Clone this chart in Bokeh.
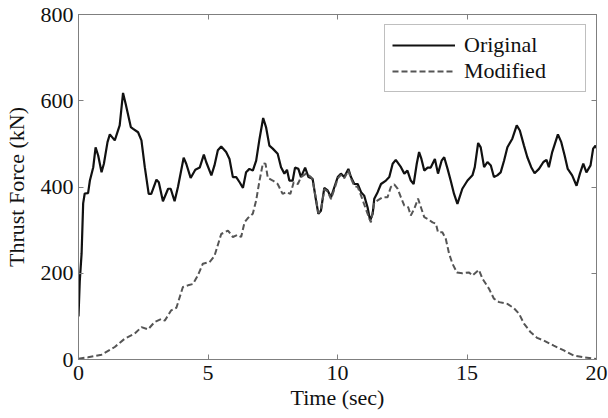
from bokeh.plotting import figure
from bokeh.models import Range1d, FixedTicker, LinearAxis, Legend, LegendItem
from bokeh.embed import file_html
from bokeh.resources import INLINE

# ---------------- data ----------------
orig_t = [0.00, 0.05, 0.12, 0.18, 0.24, 0.37, 0.44, 0.57, 0.66, 0.76,
          0.89, 0.98, 1.12, 1.21, 1.40, 1.59, 1.72, 1.82, 2.02, 2.11,
          2.30, 2.43, 2.56, 2.71, 2.81, 3.01, 3.10, 3.26, 3.46, 3.56,
          3.71, 3.84, 4.06, 4.16, 4.33, 4.51, 4.68, 4.84, 4.93, 5.13,
          5.25, 5.38, 5.51, 5.70, 5.83, 5.96, 6.09, 6.22, 6.35, 6.47,
          6.60, 6.73, 6.86, 6.99, 7.13, 7.24, 7.37, 7.50, 7.69, 7.82,
          7.95, 8.05, 8.14, 8.27, 8.36, 8.49, 8.59, 8.75, 8.88, 9.04,
          9.17, 9.26, 9.36, 9.49, 9.62, 9.75, 9.88, 10.01, 10.13, 10.26,
          10.42, 10.52, 10.65, 10.78, 10.91, 11.03, 11.16, 11.26, 11.36, 11.42,
          11.55, 11.68, 11.87, 12.00, 12.13, 12.25, 12.45, 12.58, 12.70, 12.83,
          12.94, 13.06, 13.15, 13.24, 13.35, 13.48, 13.60, 13.76, 13.88, 14.02,
          14.12, 14.25, 14.37, 14.50, 14.63, 14.82, 15.02, 15.21, 15.30, 15.43,
          15.53, 15.66, 15.79, 15.92, 16.04, 16.17, 16.30, 16.43, 16.56, 16.75,
          16.92, 17.04, 17.20, 17.33, 17.48, 17.61, 17.78, 17.95, 18.07, 18.16,
          18.29, 18.51, 18.64, 18.77, 18.89, 19.06, 19.23, 19.36, 19.49, 19.61,
          19.77, 19.87, 19.96, 20.00]
orig_f = [100, 183, 246, 362, 385, 386, 415, 446, 492, 473,
          434, 454, 504, 522, 508, 543, 618, 593, 539, 535,
          527, 508, 446, 384, 384, 417, 411, 367, 396, 396,
          367, 400, 468, 454, 421, 440, 445, 475, 458, 427,
          450, 485, 494, 481, 465, 423, 423, 411, 398, 434,
          442, 438, 461, 512, 560, 539, 496, 489, 477, 446,
          431, 440, 415, 415, 445, 442, 423, 445, 423, 419,
          369, 338, 345, 398, 392, 376, 400, 423, 431, 423,
          442, 423, 407, 407, 388, 380, 353, 322, 338, 373,
          388, 407, 415, 423, 454, 463, 446, 431, 438, 415,
          407, 454, 481, 465, 438, 445, 445, 465, 431, 461,
          469, 442, 415, 384, 361, 396, 415, 427, 446, 502,
          492, 446, 458, 450, 423, 427, 434, 461, 492, 512,
          543, 531, 496, 469, 446, 432, 442, 458, 463, 446,
          481, 522, 504, 473, 442, 427, 403, 431, 454, 434,
          450, 489, 496, 490]

mod_t = [0.00, 0.37, 0.89, 1.40, 1.78, 2.17, 2.43, 2.69, 2.94, 3.20,
         3.33, 3.58, 3.78, 4.03, 4.23, 4.42, 4.61, 4.80, 5.06, 5.25,
         5.51, 5.77, 5.96, 6.15, 6.28, 6.41, 6.54, 6.73, 6.86, 6.99,
         7.12, 7.22, 7.31, 7.50, 7.69, 7.88, 8.02, 8.18, 8.31, 8.47,
         8.59, 8.79, 8.98, 9.04, 9.17, 9.26, 9.36, 9.49, 9.62, 9.75,
         9.88, 10.01, 10.13, 10.26, 10.42, 10.52, 10.65, 10.78, 10.91, 11.16,
         11.29, 11.42, 11.55, 11.74, 11.93, 12.06, 12.19, 12.32, 12.45, 12.58,
         12.73, 12.83, 12.96, 13.11, 13.22, 13.35, 13.48, 13.67, 13.80, 13.88,
         14.05, 14.18, 14.31, 14.44, 14.61, 14.82, 15.08, 15.21, 15.46, 15.60,
         15.85, 16.04, 16.24, 16.56, 16.81, 17.01, 17.20, 17.46, 17.71, 17.97,
         18.35, 18.74, 19.13, 19.51, 19.90, 20.00]
mod_f = [2, 5, 11, 29, 48, 60, 75, 70, 87, 94,
         90, 114, 120, 168, 172, 175, 195, 222, 226, 240,
         291, 299, 284, 289, 284, 318, 328, 338, 369, 415,
         455, 454, 421, 415, 407, 384, 388, 384, 411, 407,
         423, 431, 423, 415, 372, 340, 345, 395, 390, 372,
         395, 420, 428, 420, 438, 420, 402, 400, 380, 338,
         318, 364, 369, 376, 376, 400, 406, 396, 376, 357,
         353, 334, 349, 373, 353, 330, 326, 318, 315, 295,
         295, 280, 245, 222, 202, 200, 202, 195, 208, 187,
         164, 141, 133, 129, 119, 106, 83, 63, 50, 44,
         32, 21, 9, 5, 2, 1]

x_ticks = [0, 5, 10, 15, 20]
y_ticks = [0, 200, 400, 600, 800]
series_names = ["Original", "Modified"]
x_label = "Time (sec)"
y_label = "Thrust Force (kN)"

# ---------------- figure ----------------
FONT = "Liberation Serif"
AX_COLOR = "#7f7f7f"

p = figure(width=608, height=418, output_backend="svg",
           toolbar_location=None,
           x_range=Range1d(0, 20), y_range=Range1d(0, 800),
           min_border_left=77, min_border_right=12, min_border_top=14,
           min_border_bottom=59)
p.background_fill_color = "white"
p.border_fill_color = "white"
p.outline_line_color = AX_COLOR
p.outline_line_width = 1
p.xgrid.visible = False
p.ygrid.visible = False


def style_axis(ax, ticks, size):
    ax.ticker = FixedTicker(ticks=ticks)
    ax.axis_line_color = AX_COLOR
    ax.major_tick_line_color = AX_COLOR
    ax.major_tick_in = 5
    ax.major_tick_out = 0
    ax.minor_tick_line_color = None
    ax.major_label_text_font = FONT
    ax.major_label_text_font_size = size
    ax.major_label_text_color = "#111111"
    ax.axis_label_text_font = FONT
    ax.axis_label_text_font_size = size
    ax.axis_label_text_font_style = "normal"
    ax.axis_label_text_color = "#111111"


style_axis(p.xaxis[0], x_ticks, "22px")
style_axis(p.yaxis[0], y_ticks, "22px")
p.xaxis[0].axis_label = x_label
p.yaxis[0].axis_label = y_label
p.xaxis[0].major_label_standoff = 6
p.xaxis[0].axis_label_standoff = 2
p.yaxis[0].major_label_standoff = 5
p.yaxis[0].axis_label_standoff = 9

# mirrored tick marks on top and right (no labels)
top_ax = LinearAxis()
right_ax = LinearAxis()
style_axis(top_ax, x_ticks, "1px")
style_axis(right_ax, y_ticks, "1px")
for ax in (top_ax, right_ax):
    ax.major_label_text_color = None
    ax.major_label_standoff = 0
p.add_layout(top_ax, "above")
p.add_layout(right_ax, "right")

r_orig = p.line(orig_t, orig_f, line_color="#111111", line_width=2.2)
r_mod = p.line(mod_t, mod_f, line_color="#555555", line_width=2.0,
               line_dash="6 3")

legend = Legend(items=[LegendItem(label=series_names[0], renderers=[r_orig]),
                       LegendItem(label=series_names[1], renderers=[r_mod])],
                location="top_right")
legend.margin = 10
legend.padding = 7
legend.spacing = 0
legend.glyph_width = 63
legend.glyph_height = 22
legend.label_height = 22
legend.label_width = 114
legend.label_standoff = 9
legend.label_text_font = FONT
legend.label_text_font_size = "22px"
legend.label_text_color = "#111111"
legend.border_line_color = AX_COLOR
legend.border_line_width = 1
legend.background_fill_color = "white"
legend.background_fill_alpha = 1.0
p.add_layout(legend, "center")

open("out.html", "w").write(file_html(p, INLINE))
